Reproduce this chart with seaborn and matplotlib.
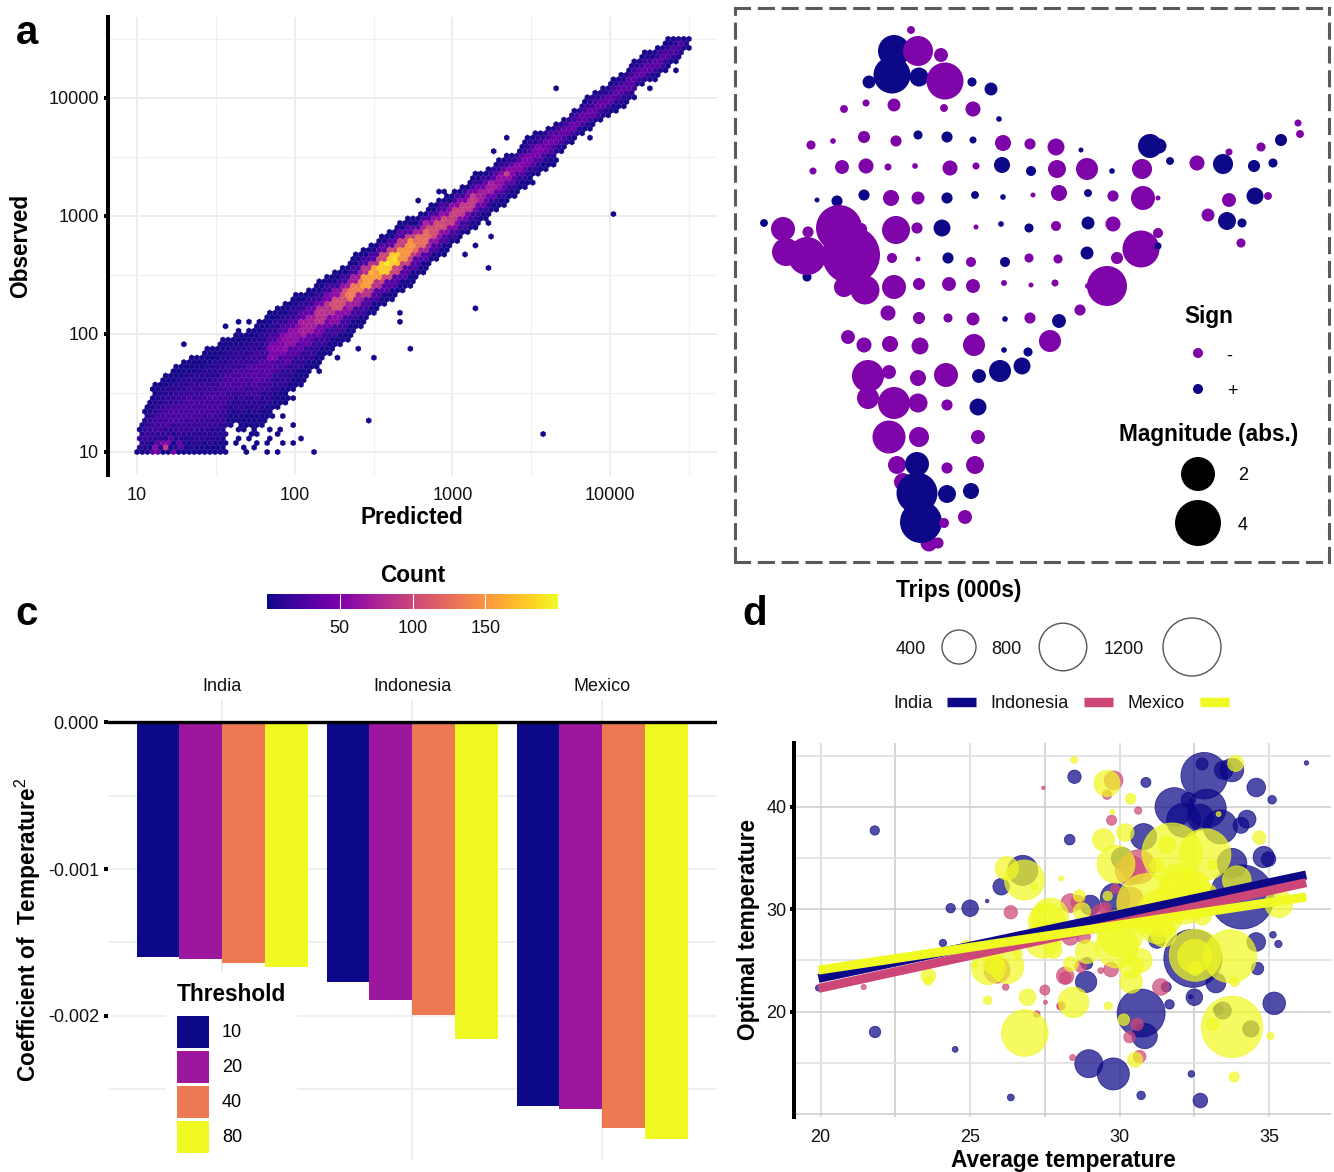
import matplotlib
matplotlib.use('Agg')
import matplotlib.pyplot as plt
from matplotlib.patches import Patch
import seaborn as sns
import numpy as np
import pandas as pd

W, H = 1334, 1172
NAVY, PURPLE = '#0d0887', '#7e03a8'
PINK, YELLOW = '#cc4778', '#f0f921'

# ---- panel a: hexbin read as bands along the diagonal (log10 predicted / observed)
band_pred = [1.05, 1.10, 1.15, 1.20, 1.30, 1.40, 1.50, 1.60, 1.70, 1.80, 1.90, 2.00, 2.10, 2.20, 2.30, 2.40, 2.50, 2.60, 2.70,
             2.80, 2.90, 3.00, 3.10, 3.20, 3.30, 3.40, 3.50, 3.60, 3.70, 3.80, 3.90, 4.00, 4.10, 4.20, 4.30, 4.40, 4.50]
band_hi = [1.25, 1.42, 1.58, 1.66, 1.75, 1.81, 1.89, 1.96, 2.02, 2.12, 2.21, 2.31, 2.37, 2.47, 2.54, 2.66, 2.75, 2.85, 2.95,
           3.01, 3.11, 3.18, 3.28, 3.37, 3.46, 3.53, 3.66, 3.73, 3.81, 3.92, 4.03, 4.11, 4.22, 4.35, 4.42, 4.51, 4.52]
band_lo = [0.98, 0.98, 0.98, 0.98, 0.98, 0.98, 0.98, 1.25, 1.26, 1.26, 1.40, 1.55, 1.70, 1.83, 1.94, 2.07, 2.20, 2.30, 2.40,
           2.53, 2.65, 2.77, 2.88, 2.99, 3.09, 3.20, 3.33, 3.43, 3.58, 3.69, 3.79, 3.88, 3.96, 4.13, 4.19, 4.31, 4.45]
band_ridge = [1.12, 1.20, 1.27, 1.30, 1.35, 1.38, 1.42, 1.60, 1.64, 1.69, 1.90, 2.00, 2.10, 2.20, 2.30, 2.40, 2.50, 2.60, 2.70,
              2.80, 2.90, 3.00, 3.10, 3.20, 3.30, 3.40, 3.50, 3.60, 3.70, 3.80, 3.90, 4.00, 4.10, 4.22, 4.30, 4.40, 4.48]
band_mid = [5, 6, 7, 8, 9, 9, 9, 9, 10, 10, 12, 12, 14, 16, 18, 20, 25, 30, 30,
            28, 25, 20, 18, 15, 14, 12, 12, 10, 10, 10, 10, 8, 8, 8, 6, 5, 3]
band_inner = [10, 11, 12, 14, 16, 16, 15, 16, 16, 18, 24, 30, 36, 46, 58, 70, 85, 100, 95,
              75, 62, 56, 48, 40, 35, 32, 28, 25, 22, 20, 20, 18, 18, 18, 16, 12, 5]
band_core = [14, 16, 18, 22, 24, 22, 22, 24, 26, 30, 50, 60, 70, 85, 105, 135, 155, 178, 150,
             125, 105, 95, 90, 70, 60, 55, 48, 42, 38, 38, 36, 34, 32, 34, 32, 26, 8]
# single cells away from the bands, or hotter than them
cell_pred = [3.66, 3.35, 3.26, 4.03, 2.78, 3.88, 3.63, 4.41, 4.11, 4.25, 3.23, 3.23, 3.14, 3.07, 2.91, 2.95, 3.14, 3.51,
             1.30, 1.65, 1.72, 1.57, 2.72, 2.41, 2.50, 2.48, 2.67, 2.67, 1.00, 2.11, 2.04, 1.99, 1.99, 1.93, 1.92, 1.99, 2.14, 2.27,
             3.59, 3.16, 3.23, 1.67, 1.72, 1.76, 1.73, 1.70, 1.76, 1.83, 1.83, 1.83, 1.67, 1.70, 1.73, 1.89, 1.92, 1.83, 1.89, 1.64, 1.64,
             2.57, 2.62, 2.50, 2.54, 1.18, 1.11, 1.20, 1.25, 1.18, 1.14, 1.22, 1.14, 1.22, 1.28, 1.10, 3.35]
cell_obs = [4.08, 3.66, 3.57, 3.02, 3.14, 3.67, 3.42, 4.24, 3.97, 4.08, 2.96, 2.83, 2.75, 2.69, 3.20, 3.20, 3.36, 3.30,
            1.92, 2.10, 2.10, 2.07, 1.89, 1.89, 1.81, 1.28, 2.16, 2.10, 1.01, 1.01, 1.13, 1.22, 1.10, 1.07, 1.29, 1.47, 1.68, 1.78,
            1.16, 2.23, 2.54, 1.21, 1.21, 1.17, 1.13, 1.10, 1.10, 1.19, 1.10, 1.06, 1.03, 1.01, 1.03, 1.17, 1.19, 1.01, 1.01, 1.13, 1.07,
            2.60, 2.65, 2.52, 2.56, 1.04, 1.04, 1.08, 1.08, 1.08, 1.00, 1.00, 1.08, 1.12, 1.04, 1.00, 3.35]
cell_count = [2] * 59 + [195, 190, 170, 175, 90, 55, 50, 35, 50, 40, 45, 32, 30, 32, 35, 95]
count_ticks = [50, 100, 150]
log_ticks = [10, 100, 1000, 10000]
log_labels = ['10', '100', '1000', '10000']

# ---- panel b: map bubbles
map_x = [911, 894, 918, 941, 892, 869, 919, 945, 972, 991,
         844, 866, 894, 944, 973, 999, 811, 833, 864, 896,
         918, 947, 973, 1003, 1030, 1056, 1081, 1150, 1159, 1170,
         1197, 1223, 1229, 1261, 1281, 1298, 1300, 1254, 1273, 813,
         842, 866, 888, 915, 950, 976, 1002, 1031, 1057, 1087,
         1112, 1142, 817, 837, 864, 891, 918, 947, 975, 1003,
         1033, 1059, 1088, 1113, 1143, 1158, 1229, 1255, 1268, 1208,
         1227, 1242, 1241, 764, 807, 783, 839, 808, 861, 896,
         917, 942, 976, 1001, 1029, 1056, 1088, 1113, 786, 807,
         851, 892, 918, 948, 971, 1005, 1029, 1058, 1087, 1117,
         1141, 1158, 1158, 844, 865, 894, 919, 949, 973, 1004,
         1031, 1055, 1088, 1107, 888, 919, 948, 973, 1005, 1030,
         1059, 1080, 848, 864, 890, 920, 974, 1004, 1028, 1050,
         868, 889, 918, 946, 979, 1000, 1022, 868, 894, 918,
         947, 978, 889, 919, 978, 897, 917, 947, 975, 903,
         929, 938, 917, 947, 971, 921, 944, 965]
map_y = [30, 51, 51, 55, 75, 82, 77, 81, 82, 89,
         109, 103, 105, 108, 109, 119, 145, 141, 137, 141,
         135, 137, 140, 143, 144, 147, 150, 146, 146, 161,
         163, 164, 152, 147, 140, 123, 134, 166, 163, 171,
         167, 166, 167, 166, 168, 166, 165, 171, 169, 169,
         171, 169, 200, 201, 195, 198, 198, 198, 195, 197,
         195, 193, 193, 196, 198, 198, 200, 196, 196, 215,
         221, 223, 243, 223, 277, 229, 228, 232, 229, 230,
         228, 228, 227, 224, 228, 226, 223, 224, 252, 256,
         255, 258, 259, 258, 262, 262, 258, 259, 253, 258,
         249, 233, 246, 287, 290, 287, 284, 284, 286, 283,
         285, 283, 286, 286, 313, 318, 318, 319, 319, 318,
         321, 310, 337, 345, 344, 346, 345, 350, 352, 341,
         376, 372, 378, 375, 376, 371, 366, 398, 403, 403,
         405, 407, 437, 437, 437, 465, 464, 468, 465, 482,
         543, 543, 493, 494, 491, 522, 523, 517]
map_mag = [.02, 1.74, 1.49, .19, 2.44, .15, .47, 2.44, .04, .15,
           .02, .01, .15, .02, .24, .001, .04, .001, .12, .09,
           .04, .09, .01, .29, .09, .34, 0, .86, .24, .02,
           .24, .54, .01, .04, .12, .01, .02, .12, .04, .01,
           .19, .24, .01, .001, .24, .01, .29, .06, .40, .69,
           .001, .54, 0, .09, .09, .29, .15, .09, .02, .001,
           0, .29, .02, .09, .86, 0, .19, .34, .02, .15,
           .40, .04, .04, .02, .04, .86, 4.0, .09, .12, 1.26,
           .09, .34, 0, .001, .04, .06, .15, .24, 1.26, 2.6,
           6.7, .06, 0, .09, .06, .06, .04, .04, .15, .12,
           2.44, .06, .01, .54, 1.37, .86, .12, .19, .19, .002,
           0, .01, .002, 2.92, .24, .12, .04, .15, .001, .09,
           .19, .09, .19, .24, .29, .34, .69, .001, .04, .69,
           1.74, .19, .29, .86, .19, .69, .34, .69, 1.74, .47,
           .09, .34, 1.87, .54, .19, .40, .86, .09, .40, .40,
           .34, .09, 3.09, .40, .29, 3.26, .06, .19]
map_sign = ['-', '+', '-', '-', '+', '+', '+', '-', '+', '+',
            '-', '-', '-', '-', '-', '+', '-', '-', '-', '-',
            '+', '+', '+', '-', '-', '-', '+', '+', '+', '+',
            '-', '+', '-', '-', '+', '-', '-', '+', '+', '-',
            '-', '-', '-', '-', '-', '-', '+', '+', '-', '-',
            '+', '-', '+', '+', '+', '-', '-', '+', '+', '+',
            '-', '-', '+', '-', '-', '-', '-', '+', '-', '-',
            '+', '+', '-', '+', '+', '-', '-', '-', '-', '-',
            '-', '+', '-', '+', '+', '-', '+', '-', '-', '-',
            '-', '-', '-', '+', '-', '+', '-', '-', '+', '-',
            '-', '-', '+', '-', '-', '-', '-', '-', '-', '-',
            '-', '-', '-', '-', '-', '-', '-', '-', '+', '-',
            '+', '-', '-', '-', '-', '-', '-', '+', '+', '-',
            '-', '-', '-', '-', '+', '+', '+', '-', '-', '-',
            '-', '+', '-', '-', '-', '-', '+', '-', '-', '-',
            '-', '-', '+', '+', '+', '+', '-', '-']
mag_breaks = [2, 4]

# ---- panel c: bars
countries = ['India', 'Indonesia', 'Mexico']
thresholds = ['10', '20', '40', '80']
coef_india = [-0.00160, -0.00161, -0.00164, -0.00167]
coef_indonesia = [-0.00177, -0.00189, -0.00199, -0.00216]
coef_mexico = [-0.00261, -0.00263, -0.00276, -0.00284]
threshold_colors = ['#0d0887', '#9c179e', '#ed7953', '#f0f921']

# ---- panel d: temperature bubbles
india_x = [21.81, 19.93, 21.82, 24.5, 26.36, 24.09, 24.35, 25.0, 25.57, 26.04, 26.76, 28.49, 30.88, 32.83, 32.76, 33.48, 33.76, 34.57,
           35.1, 36.25, 28.33, 31.83, 32.3, 32.92, 32.14, 32.7, 33.37, 34.26, 34.06, 30.8, 34.82, 34.98, 30.08, 34.09, 33.76, 29.85,
           29.02, 34.57, 35.13, 35.31, 32.45, 34.61, 33.22, 28.88, 28.9, 32.5, 32.38, 31.56, 31.67, 30.72, 30.84, 35.17, 28.97, 29.79,
           32.4, 30.72, 32.7, 31.25, 33.45, 34.39, 33.3]
india_y = [37.7, 22.3, 18.0, 16.3, 11.6, 26.7, 30.1, 30.1, 30.8, 32.2, 33.8, 42.95, 42.4, 43.05, 44.2, 43.6, 43.6, 41.9,
           40.7, 44.3, 36.8, 40.0, 40.7, 39.85, 38.7, 39.0, 38.05, 38.8, 38.2, 37.1, 35.1, 34.9, 35.0, 31.2, 34.5, 31.1,
           30.4, 26.8, 27.5, 26.6, 25.2, 24.2, 22.8, 22.9, 24.7, 21.4, 21.45, 22.4, 20.7, 19.85, 17.6, 20.8, 14.9, 13.9,
           13.9, 11.8, 11.3, 27.0, 20.1, 18.3, 20.2]
india_trips = [25, 9, 39, 8, 12, 14, 25, 88, 2, 88, 308, 55, 29, 766, 43, 113, 183, 113,
               20, 4, 33, 520, 67, 520, 400, 230, 400, 105, 81, 230, 150, 67, 150, 1470, 300, 300,
               130, 113, 11, 14, 1200, 48, 130, 150, 43, 88, 3, 29, 25, 814, 215, 170, 267, 353,
               11, 20, 67, 90, 95, 85, 28]
indonesia_x = [27.45, 21.44, 26.36, 26.19, 27.5, 27.52, 27.23, 25.9, 28.18, 28.01, 29.8, 29.58, 30.62, 29.73, 30.63, 29.85, 28.35, 29.52,
               30.36, 28.35, 28.8, 28.18, 28.7, 29.37, 29.71, 31.38, 28.04, 30.58, 30.33, 28.43, 30.67, 28.6, 29.35, 30.35]
indonesia_y = [41.87, 22.4, 29.7, 22.4, 22.1, 20.9, 19.75, 24.05, 23.3, 20.5, 42.6, 41.2, 39.65, 38.7, 34.15, 32.0, 30.6, 30.1,
               30.9, 27.3, 27.3, 23.5, 24.4, 24.0, 24.1, 22.4, 20.55, 18.75, 17.5, 15.5, 15.6, 30.7, 29.4, 33.8]
indonesia_trips = [2, 6, 55, 11, 29, 3, 11, 230, 43, 8, 113, 25, 14, 29, 400, 25, 113, 43,
                   230, 90, 55, 98, 43, 8, 67, 88, 20, 48, 39, 9, 48, 60, 150, 300]
mexico_x = [26.23, 26.82, 27.15, 27.56, 27.54, 27.34, 27.2, 27.45, 27.79, 24.89, 23.6, 23.6, 25.61, 26.23, 25.78, 25.15, 25.59, 26.92,
            26.83, 26.6, 28.48, 29.58, 30.37, 29.76, 33.31, 33.88, 30.19, 29.46, 34.67, 31.75, 32.86, 29.88, 31.58, 31.25, 33.11, 28.04,
            28.65, 29.6, 28.74, 30.91, 33.92, 31.92, 32.47, 32.14, 32.81, 31.36, 35.32, 32.77, 27.68, 30.02, 31.25, 32.53, 32.51, 33.7,
            32.53, 33.85, 28.37, 28.91, 28.46, 29.62, 30.38, 30.39, 29.91, 30.69, 31.47, 33.76, 30.14, 35.05, 33.12, 30.52, 33.83]
mexico_y = [34.0, 32.85, 32.2, 28.8, 30.3, 29.85, 28.8, 27.0, 26.0, 26.3, 23.5, 23.0, 24.3, 24.4, 24.6, 24.55, 21.1, 21.4,
            17.9, 25.7, 44.6, 42.3, 40.8, 39.5, 39.3, 44.25, 37.5, 36.8, 37.0, 35.5, 35.35, 34.4, 36.3, 34.3, 34.3, 33.0,
            31.3, 31.3, 29.8, 30.55, 32.85, 32.85, 32.2, 31.2, 31.2, 29.6, 30.55, 29.3, 29.3, 27.65, 28.3, 25.5, 25.4, 25.4,
            24.2, 22.9, 24.65, 25.85, 20.9, 20.55, 22.9, 24.4, 26.35, 25.0, 27.6, 18.5, 19.2, 17.6, 18.75, 15.3, 13.6]
mexico_trips = [183, 560, 10, 465, 10, 6, 29, 465, 90, 55, 67, 22, 400, 400, 130, 10, 20, 88,
                766, 25, 12, 230, 33, 5, 5, 81, 98, 160, 55, 1285, 940, 500, 90, 67, 25, 5,
                43, 25, 95, 1285, 280, 360, 360, 1040, 300, 766, 267, 100, 465, 766, 400, 960, 400, 1000,
                60, 25, 68, 185, 320, 17, 170, 190, 640, 190, 230, 1345, 40, 13, 48, 70, 30]
fit_x = [19.93, 36.24]
fit_india = [23.24, 33.35]
fit_indonesia = [22.26, 32.6]
fit_mexico = [24.05, 31.2]
trip_breaks = [400, 800, 1200]


def px_axes(x0, y0, x1, y1, **kw):
    return fig.add_axes([x0 / W, 1 - y1 / H, (x1 - x0) / W, (y1 - y0) / H], **kw)


def map_size(m):
    return (1.44 * (2.5 + 10.24 * np.sqrt(m))) ** 2


def trip_size(t):
    return (1.44 * (0.6 + 0.82 * np.sqrt(t))) ** 2


sns.set_theme(style='white')
plt.rcParams['font.family'] = ['Liberation Sans', 'DejaVu Sans']
plt.rcParams['text.color'] = 'black'
plt.rcParams['axes.labelcolor'] = 'black'
plt.rcParams['mathtext.fontset'] = 'custom'
plt.rcParams['mathtext.rm'] = 'Liberation Sans'
plt.rcParams['mathtext.it'] = 'Liberation Sans'
plt.rcParams['mathtext.bf'] = 'Liberation Sans:bold'
BOLD = 16.3

fig = plt.figure(figsize=(W / 100, H / 100), dpi=100, facecolor='white')
# overlay in picture coordinates, legends and free text go here
ov = fig.add_axes([0, 0, 1, 1], zorder=10, facecolor='none')
ov.set_xlim(0, W)
ov.set_ylim(H, 0)
ov.axis('off')

# ---- a
ax_a = px_axes(108, 17, 717, 475)
xs, ys, cs = [], [], []
for i, L in enumerate(band_pred):
    for x in np.arange(max(L - 0.05, 1.03), L + 0.05, 0.008):
        shift = x - L
        lo = band_lo[i] if band_lo[i] < 1 else band_lo[i] + shift
        hi = band_hi[i] + shift
        ridge = band_ridge[i] + shift
        up = max(band_hi[i] - band_ridge[i], 0.01)
        down = max(band_ridge[i] - band_lo[i], 0.01)
        for y in np.arange(lo, hi, 0.01):
            d = (y - ridge) / up if y > ridge else (ridge - y) / down
            c = 3
            if d < 0.7:
                c = band_mid[i]
            if d < 0.4:
                c = band_inner[i]
            if d < 0.15:
                c = band_core[i]
            xs.append(x)
            ys.append(y)
            cs.append(c)
xs = np.array(xs + cell_pred)
ys = np.array(ys + cell_obs)
cs = np.array(cs + cell_count, dtype=float)
hb = ax_a.hexbin(10 ** xs, 10 ** ys, C=cs, reduce_C_function=np.max, xscale='log', yscale='log', gridsize=(106, 46),
                 extent=(1, 4.5, 1, 4.5), cmap='plasma', vmin=0, vmax=200, linewidths=0.15, edgecolors='face')
ax_a.set_xlim(10 ** 0.816, 10 ** 4.678)
ax_a.set_ylim(10 ** 0.805, 10 ** 4.686)
for axis, minor in ((ax_a.xaxis, [10 ** 1.5, 10 ** 2.5, 10 ** 3.5, 10 ** 4.5]), (ax_a.yaxis, [10 ** 1.5, 10 ** 2.5, 10 ** 3.5, 10 ** 4.5])):
    axis.set_ticks(log_ticks, labels=log_labels)
    axis.set_ticks(minor, minor=True, labels=[])
ax_a.tick_params(axis='both', which='minor', length=0)
ax_a.tick_params(axis='x', which='major', length=0, pad=9, labelsize=13, labelcolor='#111111')
ax_a.tick_params(axis='y', which='major', length=3, width=2.9, color='black', pad=3.4, labelsize=13, left=True, labelcolor='#111111')
ax_a.set_axisbelow(True)
ax_a.grid(True, which='major', color='#ececec', lw=1.3)
ax_a.grid(True, which='minor', color='#f0f0f0', lw=0.9)
sns.despine(ax=ax_a, bottom=True)
ax_a.spines['left'].set_linewidth(2.9)
ax_a.spines['left'].set_color('black')
ax_a.set_xlabel('Predicted', fontsize=BOLD, fontweight='bold', va='center')
ax_a.set_ylabel('Observed', fontsize=BOLD, fontweight='bold', va='center')
ax_a.xaxis.set_label_coords(412, 518, transform=ov.transData)
ax_a.yaxis.set_label_coords(21, 246, transform=ov.transData)

cax = px_axes(267, 594, 558, 609)
cb = fig.colorbar(hb, cax=cax, orientation='horizontal', ticks=count_ticks)
cb.outline.set_visible(False)
cax.set_axisbelow(False)
cax.tick_params(bottom=True, direction='in', length=10.8, color='white', width=0.8, pad=8, labelsize=13, labelcolor='#111111')
ov.text(413, 575, 'Count', fontsize=BOLD, fontweight='bold', ha='center', va='center')

# ---- b
ax_b = px_axes(735, 8, 1329, 562)
map_df = pd.DataFrame({'x': map_x, 'y': map_y, 'sign': map_sign})
sns.scatterplot(data=map_df, x='x', y='y', hue='sign', palette={'-': PURPLE, '+': NAVY}, s=map_size(np.array(map_mag)),
                edgecolor='none', linewidth=0, legend=False, ax=ax_b)
ax_b.set_xlim(735, 1329)
ax_b.set_ylim(562, 8)
ax_b.set(xlabel='', ylabel='', xticks=[], yticks=[])
for sp in ax_b.spines.values():
    sp.set_visible(True)
    sp.set_color('#5a5a5a')
    sp.set_linewidth(2.2)
    sp.set_linestyle((0, (4.6, 3.2)))
ov.text(1209, 316, 'Sign', fontsize=BOLD, fontweight='bold', ha='center', va='center')
sns.scatterplot(x=[1198, 1198], y=[353, 389], hue=['-', '+'], palette={'-': PURPLE, '+': NAVY}, s=map_size(0.06),
                edgecolor='none', legend=False, ax=ov)
ov.text(1229, 356, '-', fontsize=13, ha='center', va='center')
ov.text(1232, 392, '+', fontsize=13, ha='center', va='center')
ov.text(1209, 434, 'Magnitude (abs.)', fontsize=BOLD, fontweight='bold', ha='center', va='center')
sns.scatterplot(x=[1198, 1198], y=[474, 523], color='black', s=map_size(np.array(mag_breaks)), edgecolor='none', legend=False, ax=ov)
ov.text(1243, 476, str(mag_breaks[0]), fontsize=13, ha='center', va='center')
ov.text(1243, 525, str(mag_breaks[1]), fontsize=13, ha='center', va='center')

# ---- c
ax_c = px_axes(108, 700, 717, 1160)
coef_df = pd.DataFrame({'country': np.repeat(countries, len(thresholds)), 'threshold': thresholds * len(countries),
                        'coef': coef_india + coef_indonesia + coef_mexico})
ax_c.set_axisbelow(True)
sns.barplot(data=coef_df, x='country', y='coef', hue='threshold', palette=threshold_colors, errorbar=None, width=0.9, gap=0,
            saturation=1, linewidth=0, legend=False, ax=ax_c)
ax_c.set_xlim(-0.6, 2.605)
ax_c.set_ylim(-0.00298, 0.00015)
ax_c.set_yticks([0, -0.001, -0.002], labels=['0.000', '-0.001', '-0.002'])
ax_c.set_yticks([-0.0005, -0.0015, -0.0025], minor=True, labels=[])
ax_c.xaxis.tick_top()
ax_c.tick_params(axis='x', length=0, pad=3.5, labelsize=13, labelcolor='#111111')
ax_c.tick_params(axis='y', which='major', length=3, width=2.9, color='black', pad=3.4, labelsize=13, left=True, labelcolor='#111111')
ax_c.tick_params(axis='y', which='minor', length=0)
ax_c.xaxis.grid(True, color='#ececec', lw=1.3)
ax_c.yaxis.grid(True, which='both', color='#ececec', lw=1.1)
ax_c.axhline(0, color='black', lw=2.4, zorder=5)
sns.despine(ax=ax_c, left=True, bottom=True, top=True, right=True)
ax_c.set_xlabel('')
ax_c.set_ylabel('Coefficient of  Temperature$^2$', fontsize=BOLD, fontweight='bold', va='center')
ax_c.yaxis.set_label_coords(28, 930, transform=ov.transData)
handles = [Patch(facecolor=c, edgecolor='none', label=t) for c, t in zip(threshold_colors, thresholds)]
leg = ax_c.legend(handles=handles, title='Threshold', loc='upper left', bbox_to_anchor=(166, 972), bbox_transform=ov.transData,
                  fontsize=13, title_fontproperties={'weight': 'bold', 'size': BOLD}, alignment='left', frameon=True, framealpha=1,
                  facecolor='white', edgecolor='none', fancybox=False, handlelength=1.8, handleheight=2.39, labelspacing=0.14,
                  handletextpad=0.7, borderpad=0.6, borderaxespad=0)
leg._legend_box.sep = 7
leg.set_zorder(6)

# ---- d
ax_d = px_axes(794, 743, 1331, 1117)
ax_d.set_axisbelow(True)
for xv, yv, tv, col in ((india_x, india_y, india_trips, NAVY), (indonesia_x, indonesia_y, indonesia_trips, PINK),
                        (mexico_x, mexico_y, mexico_trips, YELLOW)):
    sns.scatterplot(x=xv, y=yv, s=trip_size(np.array(tv)), color=col, alpha=0.72, edgecolor=col, linewidth=0.6, legend=False, ax=ax_d)
for yv, col in ((fit_india, NAVY), (fit_indonesia, PINK), (fit_mexico, YELLOW)):
    sns.lineplot(x=fit_x, y=yv, color=col, lw=6.5, solid_capstyle='butt', errorbar=None, legend=False, ax=ax_d)
ax_d.set_xlim(19.11, 37.07)
ax_d.set_ylim(9.69, 46.25)
ax_d.set_xticks([20, 25, 30, 35], labels=['20', '25', '30', '35'])
ax_d.set_xticks([22.5, 27.5, 32.5], minor=True, labels=[])
ax_d.set_yticks([10, 20, 30, 40], labels=['', '20', '30', '40'])
ax_d.set_yticks([15, 25, 35, 45], minor=True, labels=[])
ax_d.tick_params(axis='x', which='both', length=0, pad=9, labelsize=13, labelcolor='#111111')
ax_d.tick_params(axis='y', which='minor', length=0)
ax_d.tick_params(axis='y', which='major', length=3, width=2.9, color='black', pad=2.5, labelsize=13, left=True, labelcolor='#111111')
ax_d.yaxis.get_major_ticks()[0].tick1line.set_visible(False)
ax_d.xaxis.grid(True, which='major', color='#dddddd', lw=1.3)
ax_d.xaxis.grid(True, which='minor', color='#c9c9c9', lw=1.1)
ax_d.yaxis.grid(True, which='major', color='#cccccc', lw=1.1)
ax_d.yaxis.grid(True, which='minor', color='#e2e2e2', lw=1.3)
sns.despine(ax=ax_d, bottom=True)
ax_d.spines['left'].set_linewidth(2.9)
ax_d.spines['left'].set_color('black')
ax_d.set_xlabel('Average temperature', fontsize=BOLD, fontweight='bold', va='center')
ax_d.set_ylabel('Optimal temperature', fontsize=BOLD, fontweight='bold', va='center')
ax_d.xaxis.set_label_coords(1063, 1161, transform=ov.transData)
ax_d.yaxis.set_label_coords(748, 929, transform=ov.transData)

# legends above panel d
ov.text(959, 591, 'Trips (000s)', fontsize=BOLD, fontweight='bold', ha='center', va='center')
sns.scatterplot(x=[959, 1063, 1192], y=[647, 647, 647], s=trip_size(np.array(trip_breaks)), facecolor='white', edgecolor='#555555',
                linewidth=1, legend=False, ax=ov)
for tx, t in zip((911, 1006, 1124), trip_breaks):
    ov.text(tx, 650, str(t), fontsize=13, ha='center', va='center', color='#111111')
for tx, kx, name, col in ((913, 947, countries[0], NAVY), (1030, 1084, countries[1], PINK), (1156, 1200, countries[2], YELLOW)):
    ov.text(tx, 704, name, fontsize=13, ha='center', va='center', color='#111111')
    ov.plot([kx, kx + 29], [702, 702], color=col, lw=6.8, solid_capstyle='butt')

for letter, lx, ly in (('a', 27, 33), ('c', 27, 614), ('d', 755, 614)):
    ov.text(lx, ly, letter, fontsize=29, fontweight='bold', ha='center', va='center')
ov.set_xlim(0, W)
ov.set_ylim(H, 0)
ov.axis('off')

fig.savefig('out.png', dpi=100)
